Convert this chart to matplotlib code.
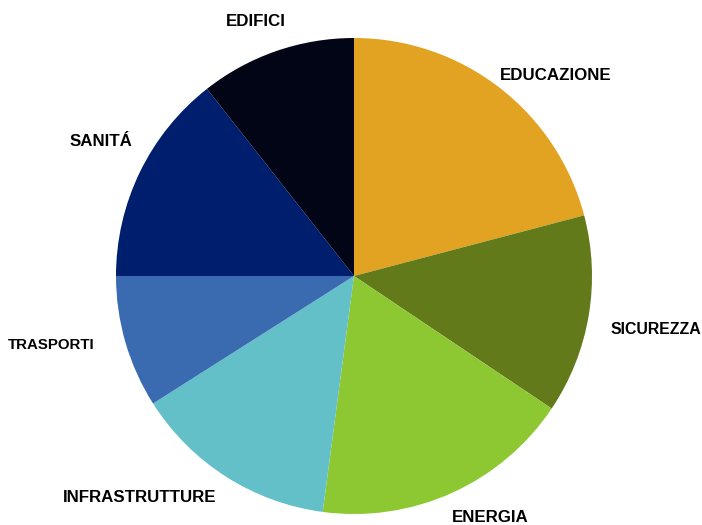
import matplotlib
matplotlib.use("Agg")
import matplotlib.pyplot as plt

# slices, clockwise from the top
categories = ["EDUCAZIONE", "SICUREZZA", "ENERGIA", "INFRASTRUTTURE",
              "TRASPORTI", "SANITÁ", "EDIFICI"]
shares = [20.9, 13.5, 17.7, 13.9, 9.0, 14.4, 10.6]
colors = ["#E2A323", "#627A1A", "#8DC833", "#63C0C8",
          "#3A6BB0", "#001E6E", "#020515"]

# label anchors in pixel space (x from left, y from top)
label_pos = {
    "EDUCAZIONE": (556, 75),
    "SICUREZZA": (656, 330),
    "ENERGIA": (490, 518),
    "INFRASTRUTTURE": (140, 497),
    "TRASPORTI": (51, 345),
    "SANITÁ": (101, 141),
    "EDIFICI": (256, 22),
}
label_size = {"TRASPORTI": 10.8, "SICUREZZA": 11.4}

W, H = 702, 525
fig = plt.figure(figsize=(W / 100, H / 100), dpi=100)
ax = fig.add_axes([0, 0, 1, 1])

ax.pie(shares, colors=colors, startangle=90, counterclock=False,
       center=(354, H - 276), radius=238, frame=True,
       wedgeprops=dict(linewidth=0))

for name in categories:
    x, y = label_pos[name]
    ax.text(x, H - y, name, ha="center", va="center",
            fontsize=label_size.get(name, 12.2),
            fontweight="bold", family="Liberation Sans", color="black")

ax.set_xlim(0, W)
ax.set_ylim(0, H)
ax.set_aspect("equal")
ax.axis("off")

fig.savefig("out.png", dpi=100)
